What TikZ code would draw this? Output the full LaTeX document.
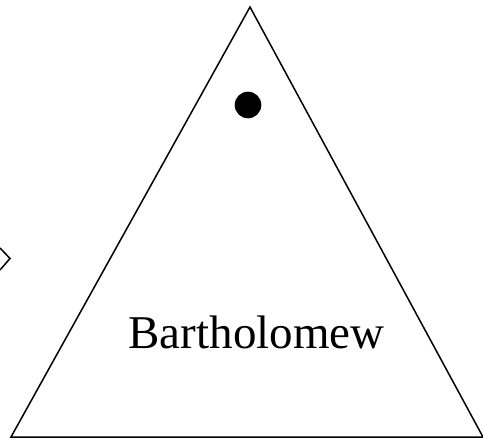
\documentclass[tikz,border=0pt]{standalone}
\usepackage{fontspec}
\setmainfont{Liberation Serif}
\usetikzlibrary{math}

\begin{document}
\begin{tikzpicture}[x=1pt,y=-1pt,line width=1.5pt]
\tikzmath{
\W=483;
\H=439;
\r=13.3;
}
\useasboundingbox (0,0) rectangle (\W,\H);
\coordinate (T1) at (11,437);
\coordinate (T2) at (250,7);
\coordinate (T3) at (483,437);
\draw[line join=miter] (T1) -- (T2) -- (T3) -- cycle;

\fill (248,105) circle (\r);

\node[anchor=base, inner sep=0, font=\fontsize{47}{52}\selectfont] (name) at (256.5,348) {Bartholomew};

\draw (0,248) -- (10,258.5) -- (0,270);
\end{tikzpicture}
\end{document}
